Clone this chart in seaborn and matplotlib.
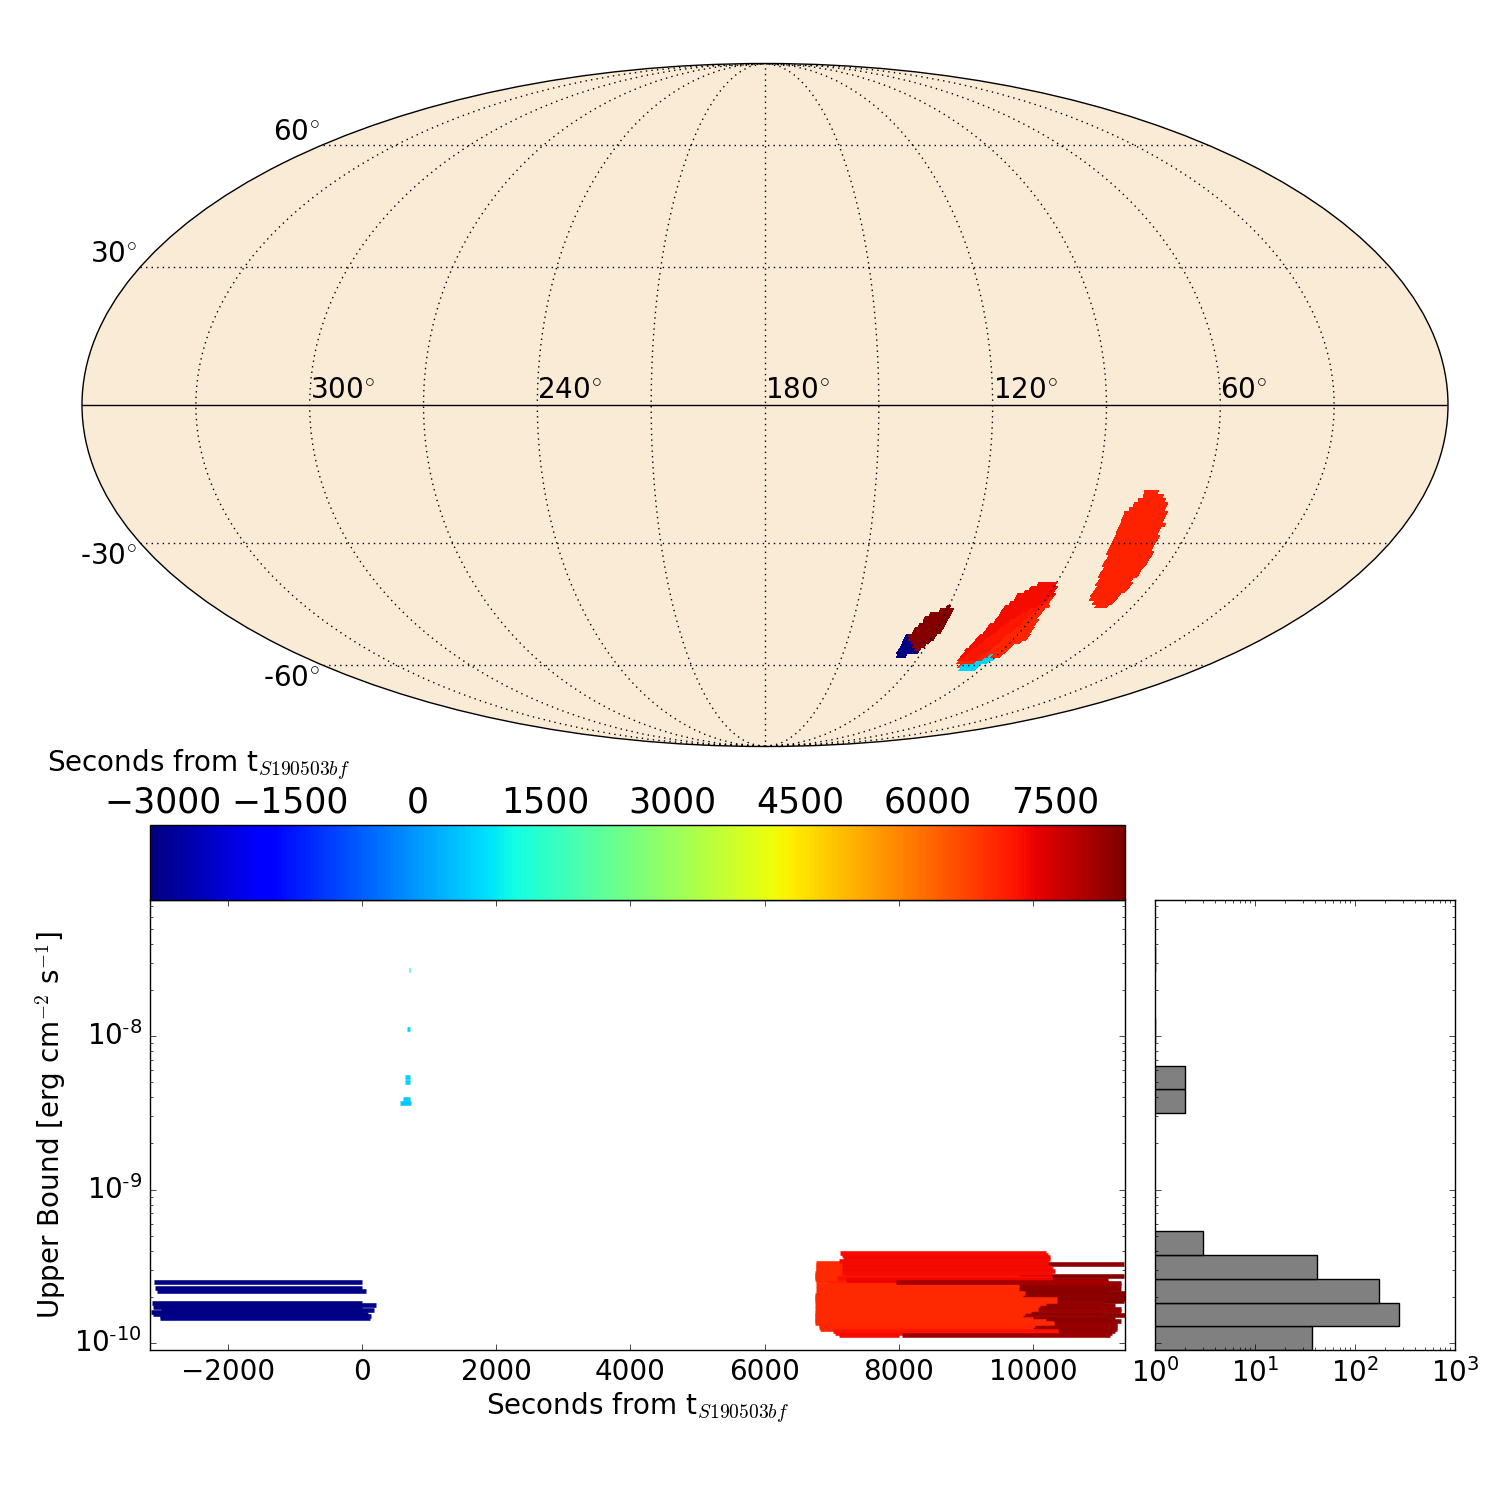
import numpy as np
import pandas as pd
import matplotlib
matplotlib.use("Agg")
import matplotlib.pyplot as plt
import seaborn as sns
from matplotlib.cm import ScalarMappable
from matplotlib.colors import Normalize
from matplotlib.path import Path

# time range of the colour scale, seconds from the trigger
t_min = -3150
t_max = 8320
cbar_ticks = [-3000, -1500, 0, 1500, 3000, 4500, 6000, 7500]

# sky regions, ra / dec in degrees, t is the start of the exposure
right_ra = [74.8, 71.0, 69.0, 68.1, 68.7, 67.6, 67.0, 67.2, 67.4, 67.2, 67.5, 67.8, 71.2,
            76.0, 76.3, 77.8, 78.6, 79.6, 79.5, 80.0, 77.7, 75.9]
right_dec = [-18.25, -19.75, -23.0, -25.6, -27.05, -30.05, -33.44, -36.12, -38.46, -40.8, -42.4, -44.4, -45.19,
             -42.4, -40.03, -37.69, -34.97, -31.54, -28.55, -24.1, -21.2, -19.0]
middle_ra = [92.7, 89.8, 88.6, 88.0, 88.3, 85.5, 88.0, 88.3, 90.8, 93.2, 98.7, 103.1, 103.8,
             102.9, 101.7, 101.5, 99.1, 96.0]
middle_dec = [-38.85, -40.03, -42.0, -44.8, -47.67, -53.16, -54.0, -57.5, -58.37, -60.13, -61.0, -58.37, -55.74,
              -52.3, -48.96, -45.6, -42.0, -40.03]
middle_mid_ra = [103.1, 103.8, 102.9, 101.7, 101.5, 99.1, 96.0, 92.7, 89.8, 88.6, 89.0, 91.0, 92.5, 93.5, 94.5, 96.0]
middle_mid_dec = [-58.37, -55.74, -52.3, -48.96, -45.6, -42.0, -40.03, -38.85, -40.03, -42.0, -44.0, -46.5, -50.0, -53.0, -56.0, -59.0]
middle_red_ra = [103.1, 103.8, 102.9, 101.7, 101.5, 99.1, 96.0, 92.7, 89.8, 88.6, 90.5, 94.5, 98.0, 100.0, 102.0, 102.5]
middle_red_dec = [-58.37, -55.74, -52.3, -48.96, -45.6, -42.0, -40.03, -38.85, -40.03, -42.0, -44.0, -46.5, -50.0, -53.0, -56.0, -58.0]
middle_cyan_ra = [100.3, 98.2, 93.1, 92.7, 89.6, 92.1, 95.5, 98.4]
middle_cyan_dec = [-60.2, -61.3, -61.3, -59.95, -58.6, -57.3, -59.2, -59.95]
dark_ra = [120.2, 118.2, 118.1, 118.2, 118.4, 119.7, 122.1, 122.9, 128.6, 126.6, 124.9, 122.1]
dark_dec = [-44.8, -46.0, -47.67, -49.75, -51.0, -53.6, -55.74, -56.2, -52.3, -49.3, -46.85, -46.0]
navy_ra = [129.3, 126.0, 123.3, 122.0, 125.8, 125.1, 128.4, 129.7, 129.7]
navy_dec = [-52.0, -54.0, -55.74, -56.6, -57.05, -57.75, -57.75, -56.2, -54.0]
region_t = [6850, 6800, 6980, 7150, 700, 8250, -3100]

# upper limits, log10 of the flux with start and stop of each exposure
blue_log = [-9.599, -9.640, -9.660, -9.736, -9.749, -9.762, -9.781, -9.794, -9.807, -9.820, -9.833]
blue_start = [-3100, -3080, -3060, -3130, -3060, -3115, -3000, -3145, -3115, -3010, -3010]
blue_stop = [0, 0, 55, 0, 208, 0, 180, 0, 90, 130, 120]

cyan_log = [-7.570, -7.954, -8.266, -8.299, -8.410, -8.436]
cyan_start = [700, 671, 641, 641, 611, 566]
cyan_stop = [715, 715, 715, 715, 715, 726]

late_log = [-9.482, -9.560, -9.588, -9.610, -9.622, -9.635, -9.649, -9.662, -9.675, -9.688, -9.701, -9.713,
            -9.727, -9.740, -9.753, -9.766, -9.779, -9.792, -9.805, -9.818, -9.831, -9.844, -9.857, -9.870, -9.882,
            -9.896, -9.909, -9.922, -9.935]
late_start = [8167, 8217, 8018, 8118, 8018, 8118, 8167, 8167, 8217, 8217, 8118, 8217,
              8217, 8068, 8118, 8068, 8167, 8018, 7969, 8217, 7969, 8167, 8217, 8118, 8068,
              8018, 8068, 8118, 8068]
late_stop = [11357, 11357, 11123, 11312, 11312, 11272, 11312, 11123, 11372, 11372, 11248, 11372,
             11357, 11049, 11223, 11000, 11312, 11312, 11000, 11372, 11074, 11223, 11312, 11248, 11248,
             11248, 11248, 11223, 11173]

early_log = [-9.475, -9.488, -9.502, -9.515, -9.527, -9.544, -9.558, -9.571, -9.584, -9.597, -9.610,
             -9.622, -9.635, -9.649, -9.662, -9.675, -9.688, -9.701, -9.713, -9.727, -9.740, -9.753,
             -9.766, -9.779, -9.792, -9.805, -9.818, -9.831, -9.844, -9.857, -9.870, -9.882, -9.896, -9.909]
early_start = [6766, 6766, 6766, 6766, 6766, 6752, 6757, 6757, 6757, 6766, 6950,
               6766, 6776, 6766, 6776, 6766, 6757, 6757, 6752, 6757, 6766, 6757,
               6766, 6757, 6766, 6757, 6757, 6757, 6757, 6757, 6752, 6816, 6816, 6826]
early_stop = [9757, 9757, 9757, 9757, 9757, 9608, 9792, 9608, 9608, 7400, 9708,
              9792, 9792, 9772, 9797, 9881, 9717, 9857, 10353, 10353, 10194, 10105,
              9683, 10080, 9971, 9881, 9857, 9757, 10006, 10194, 10314, 10030, 10006, 10006]

red_log = [-9.410, -9.423, -9.436, -9.449, -9.462, -9.475, -9.488, -9.502, -9.515, -9.527, -9.540,
           -9.575, -9.585, -9.922, -9.935, -9.948]
red_start = [7124, 7149, 7174, 7184, 7114, 7159, 7149, 7164, 7149, 7159, 7149,
             7075, 7214, 7025, 7050, 7114]
red_stop = [10194, 10229, 10254, 10254, 10194, 10229, 10229, 10264, 10304, 10329, 10279,
            10289, 10289, 10378, 10378, 8000]

# two late ones lie on top of the rest
top_log = [-9.604, -9.948]
top_start = [7959, 8043]
top_stop = [11123, 11148]

# histogram of the limits, log10 bin edges and counts
hist_log_edges = [-10.044, -9.890, -9.735, -9.581, -9.427, -9.272, -9.118, -8.964, -8.810, -8.655, -8.501,
                  -8.347, -8.192, -8.038, -7.884, -7.730, -7.575, -7.421]
hist_counts = [37, 275, 174, 42, 3, 0, 0, 0, 0, 0, 2, 2, 0, 1, 0, 0, 1]

sky_lon_ticks = [-150, -120, -90, -60, -30, 0, 30, 60, 90, 120, 150]
sky_lon_named = [-120, -60, 0, 60, 120]
sky_lon_labels = [r"300$^{\circ}$", r"240$^{\circ}$", r"180$^{\circ}$", r"120$^{\circ}$", r"60$^{\circ}$"]
sky_lat_ticks = [-60, -30, 30, 60]
sky_lat_labels = [r"-60$^{\circ}$", r"-30$^{\circ}$", r"30$^{\circ}$", r"60$^{\circ}$"]
main_xticks = [-2000, 0, 2000, 4000, 6000, 8000, 10000]
main_yticks = [1e-10, 1e-9, 1e-8]
main_ylabels = [r"$\mathdefault{10^{\text{-}10}}$", r"$\mathdefault{10^{\text{-}9}}$", r"$\mathdefault{10^{\text{-}8}}$"]
flux_ylim = [10 ** -10.044, 10 ** -7.114]

plt.style.use("classic")

# seaborn will not hand out jet, so it comes from matplotlib
jet = matplotlib.colormaps["jet"]
norm = Normalize(t_min, t_max)


def sky_grid(regions, step=0.9):
    # paint the regions on a coarse ra / dec grid, later ones on top
    lon_edges = np.arange(0, 135, step)
    lat_edges = np.arange(-66, -14, step)
    lon_c = 0.5 * (lon_edges[1:] + lon_edges[:-1])
    lat_c = 0.5 * (lat_edges[1:] + lat_edges[:-1])
    lon2d, lat2d = np.meshgrid(lon_c, lat_c)
    pts = np.c_[180 - lon2d.ravel(), lat2d.ravel()]
    values = np.full(pts.shape[0], np.nan)
    for ra, dec, t, grow in regions:
        path = Path(np.c_[ra, dec])
        # sign of the radius depends on the outline direction, so try both
        inside = path.contains_points(pts, radius=grow) | path.contains_points(pts, radius=-grow)
        values[inside] = t
    return lon_edges, lat_edges, np.ma.masked_invalid(values.reshape(lon2d.shape))


fig = plt.figure(figsize=(15, 15), dpi=100, facecolor="white")

# sky map
ax_sky = fig.add_axes([82 / 1500, 753 / 1500, 1366 / 1500, 684 / 1500], projection="mollweide")
ax_sky.set_facecolor("antiquewhite")
regions = [(right_ra, right_dec, region_t[0], 0.6),
           (middle_ra, middle_dec, region_t[1], 0.6),
           (middle_mid_ra, middle_mid_dec, region_t[2], 0.0),
           (middle_red_ra, middle_red_dec, region_t[3], 0.6),
           (middle_cyan_ra, middle_cyan_dec, region_t[4], 0.0),
           (dark_ra, dark_dec, region_t[5], 0.6),
           (navy_ra, navy_dec, region_t[6], 0.2)]
lon_edges, lat_edges, sky_values = sky_grid(regions)
ax_sky.pcolormesh(np.radians(lon_edges), np.radians(lat_edges), sky_values, cmap=jet, norm=norm, zorder=1)
ax_sky.set_longitude_grid_ends(90)
ax_sky.set_xticks(np.radians(sky_lon_ticks))
ax_sky.set_xticklabels([])
ax_sky.set_yticks(np.radians(sky_lat_ticks))
ax_sky.set_yticklabels([])
ax_sky.grid(True, color="k", linestyle=":", linewidth=1)
ax_sky.axhline(0, color="k", linewidth=1, zorder=3)
# tick labels as annotations, the geo axes will not place them where wanted
for lon, text in zip(sky_lon_named, sky_lon_labels):
    ax_sky.annotate(text, xy=(np.radians(lon), 0), xytext=(0, 7), textcoords="offset pixels",
                    fontsize=20, ha="left", va="baseline")
for lat, text in zip(sky_lat_ticks, sky_lat_labels):
    ax_sky.annotate(text, xy=(-np.pi, np.radians(lat)), xytext=(-3, 13 if lat > 0 else -13),
                    textcoords="offset pixels", fontsize=20, ha="right", va="center", annotation_clip=False)

# main panel
ax_main = fig.add_axes([150 / 1500, 150 / 1500, 975 / 1500, 450 / 1500])
for logs, start, stop in [(blue_log, blue_start, blue_stop),
                          (late_log, late_start, late_stop),
                          (early_log, early_start, early_stop),
                          (red_log, red_start, red_stop),
                          (top_log, top_start, top_stop),
                          (cyan_log, cyan_start, cyan_stop)]:
    colors = jet(norm(np.array(start)))
    ax_main.hlines(10.0 ** np.array(logs), start, stop, colors=colors, linewidth=3.3, capstyle="butt")
ax_main.set_yscale("log")
ax_main.set_xlim(-3160, 11370)
ax_main.set_ylim(flux_ylim)
ax_main.set_xticks(main_xticks)
ax_main.set_yticks(main_yticks)
ax_main.set_yticklabels(main_ylabels)
ax_main.tick_params(axis="x", which="major", labelsize=20, pad=6)
ax_main.tick_params(axis="y", which="major", labelsize=20, pad=6)
ax_main.set_xlabel(r"Seconds from t$_{S190503bf}$", fontsize=20, labelpad=3.5)
ax_main.set_ylabel(r"Upper Bound [erg cm$^{-2}$ s$^{-1}$]", fontsize=20)
ax_main.yaxis.set_label_coords(-0.0842, 0.5)

# colour bar above it
ax_cbar = fig.add_axes([150 / 1500, 600 / 1500, 975 / 1500, 75 / 1500])
cbar = fig.colorbar(ScalarMappable(norm=norm, cmap=jet), cax=ax_cbar, orientation="horizontal",
                    ticks=cbar_ticks, ticklocation="top")
cbar.ax.tick_params(labelsize=25, length=0, pad=4)
fig.text(47 / 1500, 1 - 765 / 1500, r"Seconds from t$_{S190503bf}$", fontsize=20, va="center", ha="left")

# histogram on the right
ax_hist = fig.add_axes([1155 / 1500, 150 / 1500, 300 / 1500, 450 / 1500])
hist_centers = 10.0 ** (0.5 * (np.array(hist_log_edges[1:]) + np.array(hist_log_edges[:-1])))
hist_df = pd.DataFrame({"limit": hist_centers, "count": hist_counts})
sns.histplot(data=hist_df, y="limit", weights="count", bins=hist_log_edges, log_scale=(False, True),
             color="gray", alpha=1, edgecolor="k", linewidth=1, ax=ax_hist)
ax_hist.set_xscale("log")
ax_hist.set_xlim(1, 1000)
ax_hist.set_ylim(flux_ylim)
ax_hist.set_yticks(main_yticks)
ax_hist.set_xlabel("")
ax_hist.set_ylabel("")
ax_hist.tick_params(axis="y", which="both", labelleft=False)
ax_hist.tick_params(axis="x", which="major", labelsize=20, pad=6)

fig.savefig("out.png", dpi=100, facecolor="white")
